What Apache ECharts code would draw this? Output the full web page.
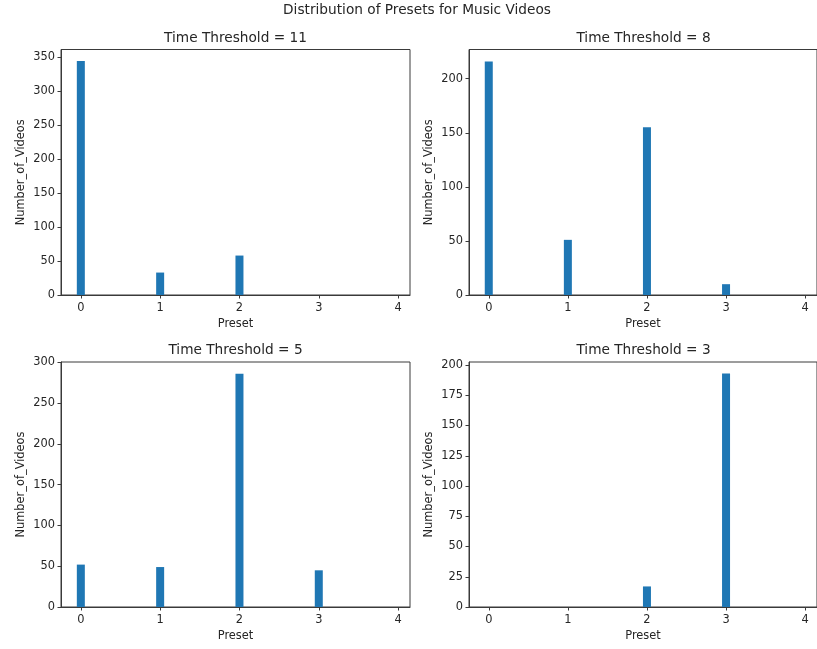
<!DOCTYPE html>
<html>
<head>
<meta charset="utf-8">
<script src="https://cdn.jsdelivr.net/npm/echarts@6/dist/echarts.min.js"></script>
<style>
html,body{margin:0;padding:0;background:#fff;}
#chart{width:817px;height:649px;}
</style>
</head>
<body>
<div id="chart"></div>
<script>
// ---- Data ----
const suptitle = 'Distribution of Presets for Music Videos';
const panelTitles = ['Time Threshold = 11', 'Time Threshold = 8', 'Time Threshold = 5', 'Time Threshold = 3'];
const presets = [0, 1, 2, 3, 4];
const videosT11 = [344, 33, 58, 0, 0];
const videosT8 = [216, 51, 155, 10, 0];
const videosT5 = [52, 49, 286, 45, 0];
const videosT3 = [0, 0, 17, 193, 0];
const yMaxes = [361, 227, 300.5, 202.5];
const yTicksT11 = [0, 50, 100, 150, 200, 250, 300, 350];
const yTicksT8 = [0, 50, 100, 150, 200];
const yTicksT5 = [0, 50, 100, 150, 200, 250, 300];
const yTicksT3 = [0, 25, 50, 75, 100, 125, 150, 175, 200];
const xTickValues = [0, 1, 2, 3, 4];
const xLabel = 'Preset';
const yLabel = 'Number_of_Videos';

const seriesValues = [videosT11, videosT8, videosT5, videosT3];
const yTicks = [yTicksT11, yTicksT8, yTicksT5, yTicksT3];

// ---- Layout ----
const FONT = 'DejaVu Sans';
const grids = [
  {left: 61, top: 49.5, width: 349, height: 245.5},
  {left: 469, top: 49.5, width: 349, height: 245.5},
  {left: 61, top: 362, width: 349, height: 245},
  {left: 469, top: 362, width: 349, height: 245}
];
const textColor = '#262626';
const lineColor = '#3a3a3a';
const TICK_FS = 11.4;
const TITLE_FS = 13.7;

const option = {
  backgroundColor: '#fff',
  animation: false,
  title: [
    {text: suptitle, left: 417, top: 3, textAlign: 'center', padding: 0,
     textStyle: {fontFamily: FONT, fontSize: TITLE_FS, fontWeight: 'normal', color: textColor}}
  ].concat(panelTitles.map((t, i) => ({
    text: t,
    left: grids[i].left + grids[i].width / 2,
    top: grids[i].top - 18.5,
    textAlign: 'center',
    padding: 0,
    textStyle: {fontFamily: FONT, fontSize: TITLE_FS, fontWeight: 'normal', color: textColor}
  }))),
  grid: grids.map(g => Object.assign({show: true, borderColor: lineColor, borderWidth: 1, backgroundColor: 'transparent'}, g)),
  xAxis: grids.map((g, i) => ({
    type: 'value', gridIndex: i, min: -0.25, max: 4.15,
    name: xLabel, nameLocation: 'middle', nameGap: 24,
    nameTextStyle: {fontFamily: FONT, fontSize: TICK_FS, color: textColor},
    axisLine: {show: true, onZero: false, lineStyle: {color: lineColor, width: 1}},
    axisTick: {show: true, inside: false, length: 3.5, customValues: xTickValues, lineStyle: {color: lineColor}},
    axisLabel: {show: true, customValues: xTickValues, margin: 8, fontFamily: FONT, fontSize: TICK_FS, color: textColor},
    splitLine: {show: false}
  })),
  yAxis: grids.map((g, i) => ({
    type: 'value', gridIndex: i, min: 0, max: yMaxes[i],
    name: yLabel, nameLocation: 'middle', nameGap: 34, nameRotate: 90,
    nameTextStyle: {fontFamily: FONT, fontSize: TICK_FS, color: textColor},
    axisLine: {show: true, onZero: false, lineStyle: {color: lineColor, width: 1}},
    axisTick: {show: true, inside: false, length: 3.5, customValues: yTicks[i], lineStyle: {color: lineColor}},
    axisLabel: {show: true, customValues: yTicks[i], margin: 6, fontFamily: FONT, fontSize: TICK_FS, color: textColor},
    splitLine: {show: false}
  })),
  series: seriesValues.map((vals, i) => ({
    type: 'bar', xAxisIndex: i, yAxisIndex: i,
    data: presets.map((p, k) => [p, vals[k]]),
    barWidth: 8,
    itemStyle: {color: '#1f77b4', borderWidth: 0},
    silent: true
  }))
};

const chart = echarts.init(document.getElementById('chart'), null, {renderer: 'canvas'});
chart.setOption(option);
</script>
</body>
</html>
